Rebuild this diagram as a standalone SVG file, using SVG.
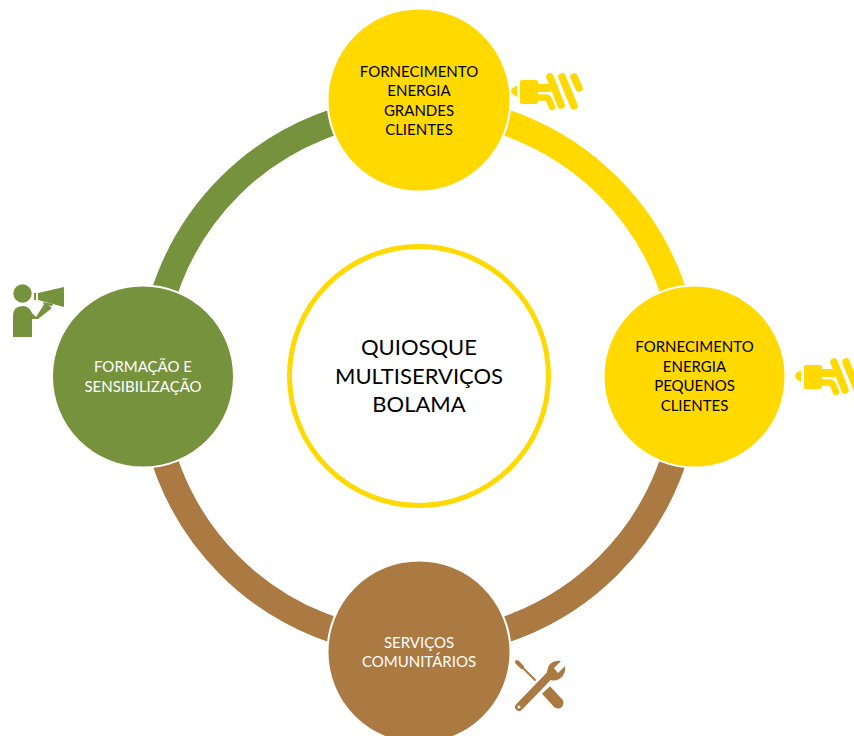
<svg xmlns="http://www.w3.org/2000/svg" width="854" height="736" viewBox="0 0 854 736">
<style>
.arc{fill:none;stroke-width:26}
.node{stroke:#fff;stroke-width:2}
text{font-family:Lato,"Liberation Sans",sans-serif;font-size:15px;text-anchor:middle}
.dark{fill:#000}.light{fill:#fff}
.big{font-size:22px}
</style>
<defs>
<g id="plug" fill="#FFD900">
<path d="M517,85.500 V97 Q511,94 511,91 Q511,88 517,85.500Z"/>
<rect x="520" y="80" width="18" height="24" rx="2"/>
<path d="M537,84 H551 V92 H537Z"/>
<path d="M550,77 L561,105 M562,77 L574,106 M574,77 L579,88" fill="none" stroke="#FFD900" stroke-width="7.500" stroke-linecap="round"/>
<path d="M537,97.500 H546 Q548,97.500 549,100 L552,107" fill="none" stroke="#FFD900" stroke-width="6.500" stroke-linecap="round"/>
</g>
</defs>
<g id="connectors">
<path class="arc" stroke="#FFD900" d="M419,108 A268,268 0 0 1 687,376"/>
<path class="arc" stroke="#AB7942" d="M687,376 A268,268 0 0 1 419,644 A268,268 0 0 1 151,376"/>
<path class="arc" stroke="#76923C" d="M151,376 A268,268 0 0 1 419,108"/>
</g>
<g id="center"><circle cx="419" cy="376" r="129.500" fill="#fff" stroke="#FFD900" stroke-width="5"/>
<text class="dark big" x="419" y="355">QUIOSQUE</text><text class="dark big" x="419" y="384">MULTISERVIÇOS</text><text class="dark big" x="419" y="412">BOLAMA</text></g>
<g id="node-top"><circle class="node" cx="419" cy="100" r="91.500" fill="#FFD900"/>
<text class="dark" x="419" y="77">FORNECIMENTO</text><text class="dark" x="419" y="96">ENERGIA</text><text class="dark" x="419" y="116">GRANDES</text><text class="dark" x="419" y="135">CLIENTES</text></g>
<g id="node-right"><circle class="node" cx="694.500" cy="376.500" r="91" fill="#FFD900"/>
<text class="dark" x="694.500" y="352">FORNECIMENTO</text><text class="dark" x="694.500" y="372">ENERGIA</text><text class="dark" x="694.500" y="391">PEQUENOS</text><text class="dark" x="694.500" y="411">CLIENTES</text></g>
<g id="node-bottom"><circle class="node" cx="419" cy="652" r="91.500" fill="#AB7942"/>
<text class="light" x="419" y="648">SERVIÇOS</text><text class="light" x="419" y="667">COMUNITÁRIOS</text></g>
<g id="node-left"><circle class="node" cx="143" cy="376.500" r="91" fill="#76923C"/>
<text class="light" x="143" y="372">FORMAÇÃO E</text><text class="light" x="143" y="392">SENSIBILIZAÇÃO</text></g>
<use id="icon-plug-top" href="#plug"/>
<use id="icon-plug-right" href="#plug" transform="translate(284 285)"/>
<g id="icon-megaphone" fill="#76923C">
<circle cx="22.500" cy="293.500" r="9.200"/>
<path d="M13,337 V316 Q13,306 23,306 Q29,306 32,313 L36,317 L45,303 L52,308 L38,319 H32 V337Z"/>
<rect x="34" y="293" width="2" height="7"/>
<path d="M38,293 L64,287 V307 L38,300Z"/>
<path d="M43,302 L53,304 L52,306 L44,305Z"/>
</g>
<g id="icon-tools" fill="none" stroke="#AB7942" stroke-linecap="round">
<path d="M519,707 L552,673" stroke-width="8"/>
<path d="M546,690 L558,703" stroke-width="11" stroke-linecap="butt"/>
<circle cx="558" cy="703" r="5.500" fill="#AB7942" stroke="none"/>
<path d="M547,677 Q546,665 553,662 Q558,660 561,661 L554,668 L558,673 L565,666 Q566,672 562,677 Q556,682 551,680Z" fill="#AB7942" stroke="none"/>
<path d="M517,662 L522,667" stroke-width="4"/>
<path d="M522,667 L535,680" stroke-width="2"/>
<circle cx="519" cy="707" r="1.500" fill="#fff" stroke="none"/>
</g>
</svg>
